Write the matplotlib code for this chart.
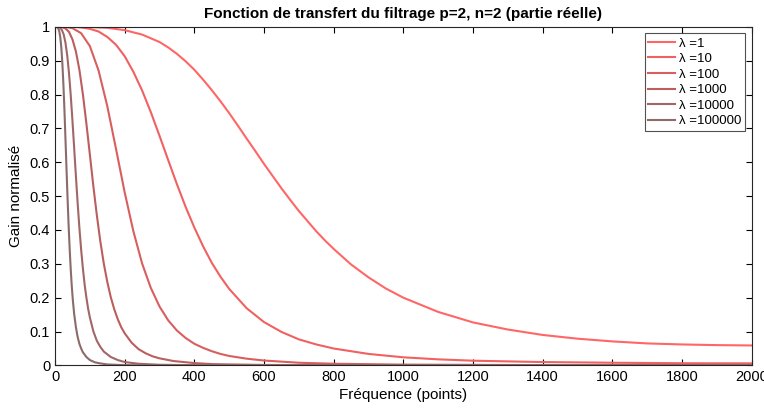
import matplotlib
matplotlib.use("Agg")
import matplotlib.pyplot as plt

plt.rcParams['font.family'] = ['Liberation Sans', 'DejaVu Sans']

# values (frequency in points, normalised gain)
f_l1 = [0, 50, 100, 150, 200, 250, 300, 325, 350, 375, 400, 425, 450, 475, 500, 525, 550,
        575, 600, 625, 650, 675, 700, 725, 750, 775, 800, 850, 900, 950, 1000, 1100, 1200,
        1300, 1400, 1500, 1600, 1700, 1800, 1900, 2000]
g_l1 = [1.0, 1.0, 0.999, 0.997, 0.990, 0.977, 0.955, 0.939, 0.920, 0.898, 0.873, 0.844,
        0.813, 0.780, 0.745, 0.708, 0.670, 0.633, 0.595, 0.559, 0.523, 0.489, 0.456, 0.426,
        0.396, 0.369, 0.344, 0.298, 0.260, 0.227, 0.200, 0.158, 0.127, 0.106, 0.090, 0.079,
        0.071, 0.065, 0.062, 0.060, 0.059]

f_l10 = [0, 50, 75, 100, 125, 150, 175, 200, 225, 250, 275, 300, 325, 350, 375, 400, 425,
         450, 475, 500, 550, 600, 650, 700, 750, 800, 900, 1000, 1100, 1200, 1400, 1600,
         1800, 2000]
g_l10 = [1.0, 1.0, 0.998, 0.994, 0.986, 0.970, 0.947, 0.913, 0.867, 0.812, 0.748, 0.678,
         0.606, 0.535, 0.468, 0.407, 0.352, 0.303, 0.262, 0.226, 0.169, 0.128, 0.099, 0.077,
         0.062, 0.050, 0.034, 0.024, 0.018, 0.014, 0.010, 0.008, 0.0065, 0.0062]

f_l100 = [0, 25, 50, 75, 100, 125, 150, 175, 200, 225, 250, 275, 300, 325, 350, 375, 400,
          425, 450, 475, 500, 550, 600, 700, 800, 1000, 1400, 2000]
g_l100 = [1.0, 1.0, 0.996, 0.981, 0.943, 0.871, 0.766, 0.640, 0.511, 0.396, 0.301, 0.229,
          0.174, 0.133, 0.103, 0.081, 0.064, 0.052, 0.042, 0.034, 0.028, 0.020, 0.0145,
          0.008, 0.005, 0.0025, 0.001, 0.0006]

f_l1000 = [0, 10, 20, 30, 40, 50, 60, 70, 80, 90, 100, 110, 120, 130, 140, 150, 160, 170,
           180, 190, 200, 220, 240, 260, 280, 300, 340, 400, 450, 500, 600, 800, 1000, 2000]
g_l1000 = [1.0, 1.0, 0.999, 0.995, 0.985, 0.963, 0.927, 0.873, 0.801, 0.715, 0.623, 0.530,
           0.444, 0.367, 0.301, 0.247, 0.202, 0.166, 0.137, 0.113, 0.095, 0.067, 0.048,
           0.036, 0.027, 0.021, 0.013, 0.007, 0.004, 0.003, 0.0015, 0.0005, 0.0003, 0.0]

f_l10000 = [0, 5, 10, 15, 20, 25, 30, 35, 40, 45, 50, 55, 60, 65, 70, 75, 80, 85, 90, 95,
            100, 110, 120, 130, 140, 160, 180, 200, 240, 300, 400, 600, 1000, 2000]
g_l10000 = [1.0, 1.0, 0.999, 0.997, 0.990, 0.977, 0.953, 0.916, 0.865, 0.800, 0.724, 0.642,
            0.559, 0.479, 0.406, 0.342, 0.287, 0.239, 0.201, 0.168, 0.142, 0.101, 0.073,
            0.055, 0.041, 0.025, 0.016, 0.010, 0.005, 0.002, 0.0007, 0.0002, 0.0, 0.0]

f_l100000 = [0, 3, 6, 9, 12, 15, 18, 21, 24, 27, 30, 33, 36, 39, 42, 45, 48, 51, 55, 60,
             65, 70, 75, 80, 90, 100, 115, 130, 150, 180, 220, 300, 400, 2000]
g_l100000 = [1.0, 1.0, 0.999, 0.996, 0.988, 0.970, 0.940, 0.894, 0.832, 0.756, 0.670, 0.581,
             0.494, 0.415, 0.346, 0.286, 0.236, 0.195, 0.152, 0.113, 0.084, 0.064, 0.050,
             0.039, 0.025, 0.016, 0.009, 0.006, 0.003, 0.0016, 0.0007, 0.0002, 0.0001, 0.0]

labels = ['λ =1', 'λ =10', 'λ =100', 'λ =1000', 'λ =10000', 'λ =100000']
colors = [(1.0, 0.40, 0.40), (0.94, 0.38, 0.38), (0.85, 0.37, 0.37),
          (0.74, 0.37, 0.37), (0.64, 0.40, 0.40), (0.55, 0.42, 0.42)]

curves = [(f_l1, g_l1), (f_l10, g_l10), (f_l100, g_l100),
          (f_l1000, g_l1000), (f_l10000, g_l10000), (f_l100000, g_l100000)]

fig = plt.figure(figsize=(7.64, 4.12), dpi=100)
ax = fig.add_axes([0.072, 0.113, 0.912, 0.822])

for (f, g), c, lab in zip(curves, colors, labels):
    ax.plot(f, g, color=c, lw=1.5, label=lab, solid_joinstyle='round')

ax.set_xlim(0, 2000)
ax.set_ylim(0, 1)
ax.set_xticks(range(0, 2001, 200))
ax.set_yticks([i / 10 for i in range(11)])
ax.set_yticklabels(['0', '0.1', '0.2', '0.3', '0.4', '0.5', '0.6', '0.7', '0.8', '0.9', '1'])
ax.tick_params(direction='in', top=True, right=True, length=4, labelsize=10.5, width=0.8)
for s in ax.spines.values():
    s.set_linewidth(0.8)
    s.set_color('#262626')

ax.set_xlabel('Fréquence (points)', fontsize=11, labelpad=3)
ax.set_ylabel('Gain normalisé', fontsize=11, labelpad=5)
ax.set_title('Fonction de transfert du filtrage p=2, n=2 (partie réelle)',
             fontsize=11, fontweight='bold', pad=6)

leg = ax.legend(loc='upper right', fontsize=9.5, frameon=True, fancybox=False,
                edgecolor='#262626', handlelength=2.0, handletextpad=0.3,
                labelspacing=0.25, borderpad=0.3, borderaxespad=0.5)
leg.get_frame().set_linewidth(0.8)

fig.savefig('out.png', dpi=100)
